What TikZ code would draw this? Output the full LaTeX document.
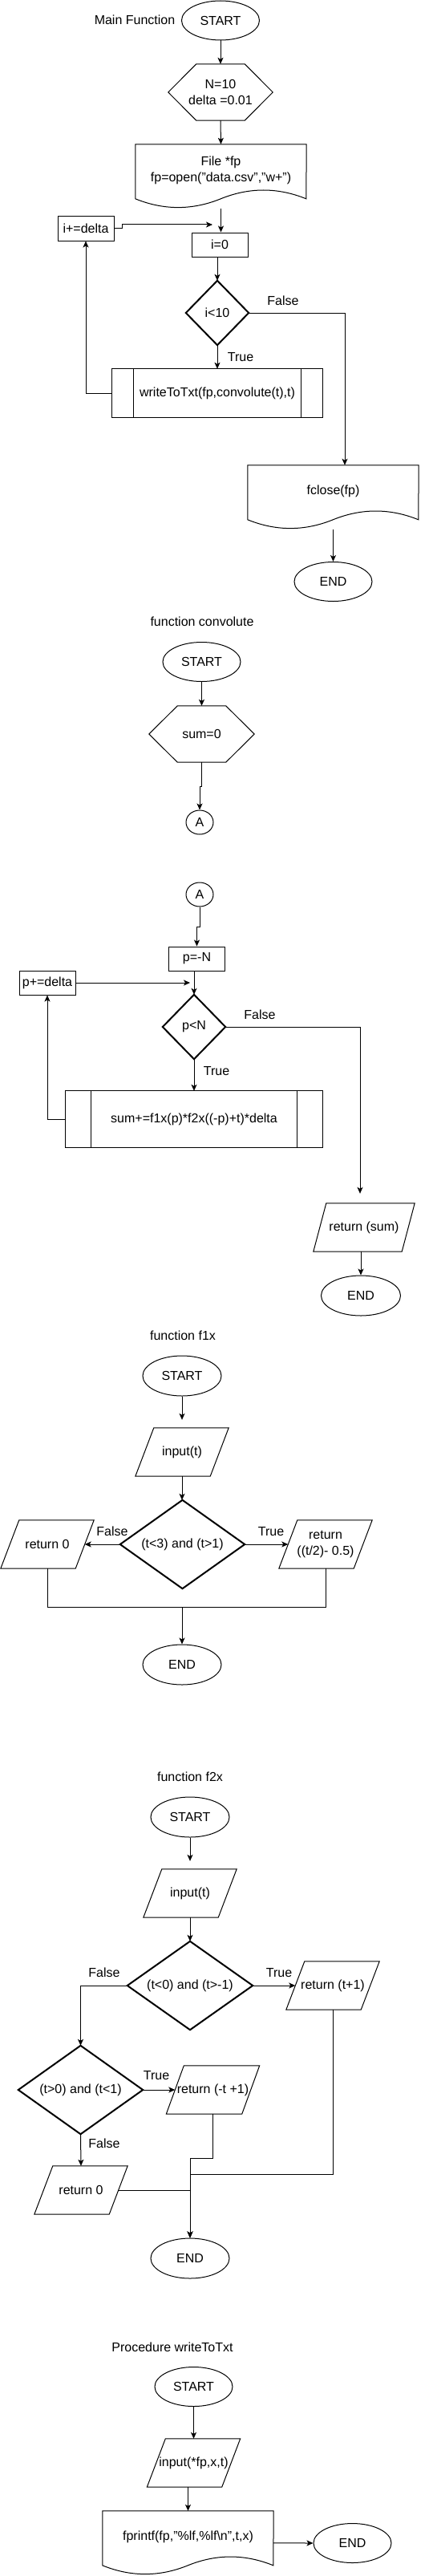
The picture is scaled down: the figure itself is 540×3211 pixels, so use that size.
\documentclass[tikz,border=0pt]{standalone}
\usepackage{fontspec}
\setmainfont{Liberation Sans}
\usetikzlibrary{shapes.geometric,arrows.meta,calc}

\tikzset{
 base/.style={font=\fontsize{16}{20}\selectfont, align=center, inner sep=0pt, text=black},
 term/.style={base, ellipse, draw, line width=1pt, minimum width=97pt, minimum height=49pt},
 conn/.style={base, ellipse, draw, line width=1pt, minimum width=34pt, minimum height=30pt},
 box/.style={base, rectangle, draw, line width=1pt, minimum width=70pt, minimum height=30pt},
 blank/.style={base, rectangle, draw=none},
 shp/.style={draw, line width=1pt, line join=miter},
 dshp/.style={draw, line width=2pt, line join=miter},
 ln/.style={draw, line width=1pt},
 arr/.style={ln, -{Stealth[length=8pt,width=7pt,inset=2pt]}},
 lbl/.style={base},
}

\newcommand\myhex[2]{\draw[shp] (#1.west) -- ($(#1.north west)+(#2,0)$) -- ($(#1.north east)+(-#2,0)$) -- (#1.east) -- ($(#1.south east)+(-#2,0)$) -- ($(#1.south west)+(#2,0)$) -- cycle;}
\newcommand\mydia[1]{\draw[dshp] (#1.north) -- (#1.east) -- (#1.south) -- (#1.west) -- cycle;}
\newcommand\mypara[2]{\draw[shp] (#1.south west) -- ($(#1.north west)+(#2,0)$) -- (#1.north east) -- ($(#1.south east)+(-#2,0)$) -- cycle;}
\newcommand\myproc[2]{\draw[shp] (#1.north west) rectangle (#1.south east);
  \draw[shp] ($(#1.north west)+(#2,0)$) -- ($(#1.south west)+(#2,0)$);
  \draw[shp] ($(#1.north east)+(-#2,0)$) -- ($(#1.south east)+(-#2,0)$);}
\newcommand\mydoc[2]{\draw[shp] (#1.north west) -- (#1.north east) -- ($(#1.north west)+(#2,68)$)
  .. controls ($(#1.north west)+({5*#2/6},53.6)$) and ($(#1.north west)+({2*#2/3},53.6)$) .. ($(#1.north west)+({#2/2},68)$)
  .. controls ($(#1.north west)+({#2/3},82.4)$) and ($(#1.north west)+({#2/6},82.4)$) .. ($(#1.north west)+(0,68)$) -- cycle;}

\begin{document}
\begin{tikzpicture}[x=1pt,y=-1pt]
\useasboundingbox[fill=white] (0,0) rectangle (540,3211);

% ---------------- Main function ----------------
\node[lbl] (tM) at (168,25) {Main Function};
\node[term] (s1) at (275,25.5) {START};
\node[blank, minimum width=130pt, minimum height=70pt] (h1) at (275,115) {N=10\\delta =0.01};
\myhex{h1}{35}
\node[blank, minimum width=213pt, minimum height=64pt] (doc1) at (275.5,212) {File *fp\\fp=open("data.csv","w+")};
\mydoc{doc1}{213}
\node[box] (inc) at (107,285) {i+=delta};
\node[box] (i0) at (274,305) {i=0};
\node[blank, minimum width=78pt, minimum height=80pt] (d1) at (271,390) {i<10};
\mydia{d1}
\node[blank, minimum width=262pt, minimum height=60pt] (p1) at (271,490) {writeToTxt(fp,convolute(t),t)};
\myproc{p1}{26.5}
\node[blank, minimum width=213pt, minimum height=64pt] (fc) at (415.5,612) {fclose(fp)};
\mydoc{fc}{213}
\node[term] (e1) at (415.5,725) {END};

\draw[arr] (s1.south) -- (h1.north);
\draw[arr] (h1.south) -- (doc1.north);
\coordinate (doc1b) at ($(doc1.north)+(0,80)$);
\draw[arr] (doc1b) -- (doc1b |- i0.north);
\draw[arr] (i0.south -| d1.north) -- (d1.north);
\coordinate (lp1) at (265,280);
\draw[arr] (inc.east) -- ++(10,0) |- (lp1);
\draw[arr] (d1.east) -| ($(fc.north)+(14.5,0)$);
\node[lbl] at (353,375) {False};
\draw[arr] (d1.south) -- (p1.north);
\node[lbl] at (300,445) {True};
\draw[arr] (p1.west) -| (inc.south);
\coordinate (fcb) at ($(fc.north)+(0,80)$);
\draw[arr] (fcb) -- (fcb |- e1.north);

% ---------------- function convolute ----------------
\node[lbl] (tC) at (252,775) {function convolute};
\node[term] (sC) at (251.5,825) {START};
\node[blank, minimum width=131pt, minimum height=70pt] (hC) at (251.5,915) {sum=0};
\myhex{hC}{35.5}
\node[conn] (A1) at (249,1025) {A};
\node[conn] (A2) at (249,1115) {A};
\node[box] (pN) at (245.5,1195) {p=-N};
\node[box] (pInc) at (59,1225) {p+=delta};
\node[blank, minimum width=78pt, minimum height=80pt] (dC) at (242,1280) {p<N};
\mydia{dC}
\node[blank, minimum width=320pt, minimum height=70pt] (p2) at (242,1395) {sum+=f1x(p)*f2x((-p)+t)*delta};
\myproc{p2}{32}
\node[blank, minimum width=126pt, minimum height=60pt] (rs) at (454,1530) {return (sum)};
\mypara{rs}{16}
\node[term, minimum width=99pt, minimum height=50pt] (eC) at (450,1615) {END};

\draw[arr] (sC.south) -- (hC.north);
\draw[arr] (hC.south) -- ++(0,30) -| (A1.north);
\draw[arr] (A2.south) -- ++(0,25) -| (pN.north);
\draw[arr] (pN.south -| dC.north) -- (dC.north);
\coordinate (lp2) at (237,1225);
\draw[arr] (pInc.east) -- (lp2);
\coordinate (rsin) at ($(rs.north)+(-5,-12)$);
\draw[arr] (dC.east) -| (rsin);
\node[lbl] at (324,1265) {False};
\draw[arr] (dC.south) -- (p2.north);
\node[lbl] at (270,1335) {True};
\draw[arr] (p2.west) -| (pInc.south);
\draw[arr] (rs.south -| eC.north) -- (eC.north);

% ---------------- function f1x ----------------
\node[lbl] (tF1) at (228,1665) {function f1x};
\node[term, minimum width=98pt, minimum height=50pt] (sF1) at (227,1715) {START};
\node[blank, minimum width=116pt, minimum height=60pt] (inF1) at (227,1810) {input(t)};
\mypara{inF1}{23}
\node[blank, minimum width=155pt, minimum height=110pt] (dF1) at (227.5,1925) {(t<3) and (t>1)};
\mydia{dF1}
\node[blank, minimum width=116pt, minimum height=60pt] (ret0) at (59,1925) {return 0};
\mypara{ret0}{23}
\node[blank, minimum width=116pt, minimum height=60pt] (retT) at (406,1925) {return\\((t/2)- 0.5)};
\mypara{retT}{23}
\node[term, minimum width=98pt, minimum height=50pt] (eF1) at (227,2075) {END};

\draw[arr] (sF1.south) -- ($(inF1.north)+(0,-10)$);
\draw[arr] (inF1.south) -- (dF1.north -| inF1.south);
\draw[arr] (dF1.west) -- ($(ret0.east)+(-11.5,0)$);
\node[lbl] at (140,1909) {False};
\draw[arr] (dF1.east) -- ($(retT.west)+(11.5,0)$);
\node[lbl] at (338,1909) {True};
\coordinate (jF1) at ($(ret0.south)+(0,48)$);
\draw[ln] (ret0.south) -- (jF1) -| (retT.south);
\draw[arr] (jF1 -| eF1.north) -- (eF1.north);

% ---------------- function f2x ----------------
\node[lbl] (tF2) at (237,2215) {function f2x};
\node[term, minimum width=98pt, minimum height=50pt] (sF2) at (237,2265) {START};
\node[blank, minimum width=116pt, minimum height=60pt] (inF2) at (237,2360) {input(t)};
\mypara{inF2}{23}
\node[blank, minimum width=156pt, minimum height=110pt] (dA) at (237,2475) {(t<0) and (t>-1)};
\mydia{dA}
\node[blank, minimum width=116pt, minimum height=60pt] (retA) at (415,2475) {return (t+1)};
\mypara{retA}{23}
\node[blank, minimum width=155pt, minimum height=110pt] (dB) at (100.5,2605) {(t>0) and (t<1)};
\mydia{dB}
\node[blank, minimum width=116pt, minimum height=60pt] (retB) at (265.5,2605) {return (-t +1)};
\mypara{retB}{22}
\node[blank, minimum width=116pt, minimum height=60pt] (ret0b) at (101,2730) {return 0};
\mypara{ret0b}{23}
\node[term, minimum width=98pt, minimum height=50pt] (eF2) at (237,2815) {END};

\draw[arr] (sF2.south) -- ($(inF2.north)+(0,-10)$);
\draw[arr] (inF2.south) -- (dA.north);
\draw[arr] (dA.west) -| (dB.north);
\node[lbl] at (130,2459) {False};
\draw[arr] (dA.east) -- ($(retA.west)+(11.5,0)$);
\node[lbl] at (348,2459) {True};
\draw[arr] (dB.east) -- ($(retB.west)+(11,0)$);
\node[lbl] at (195,2587) {True};
\draw[arr] (dB.south) -- (ret0b.north);
\node[lbl] at (130,2672) {False};
\draw[arr] (retB.south) -- ++(0,55) -| (eF2.north);
\draw[arr] (retA.south) -- ++(0,205) -| (eF2.north);
\draw[arr] ($(ret0b.east)+(-11.5,0)$) -| (eF2.north);

% ---------------- Procedure writeToTxt ----------------
\node[lbl] (tW) at (215,2926) {Procedure writeToTxt};
\node[term] (sW) at (241.5,2975) {START};
\node[blank, minimum width=116pt, minimum height=60pt] (inW) at (241.5,3070) {input(*fp,x,t)};
\mypara{inW}{23}
\node[blank, minimum width=213pt, minimum height=64pt] (dW) at (234.5,3162) {fprintf(fp,"\%lf,\%lf\textbackslash n",t,x)};
\mydoc{dW}{213}
\node[term] (eW) at (439.5,3170) {END};

\draw[arr] (sW.south) -- (inW.north);
\draw[arr] (inW.south -| dW.north) -- (dW.north);
\draw[arr] ($(dW.north east)+(0,40)$) -- (eW.west);
\end{tikzpicture}
\end{document}
